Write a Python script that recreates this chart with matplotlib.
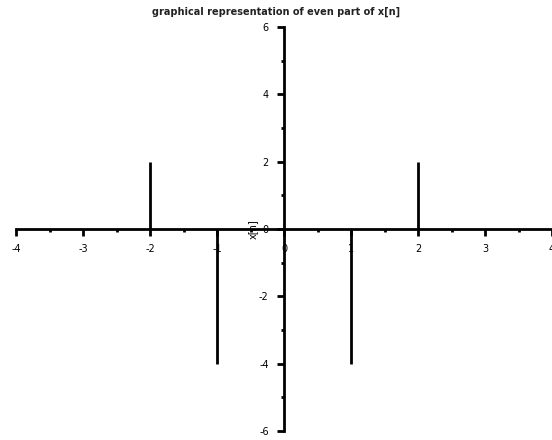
import matplotlib.pyplot as plt
from matplotlib.ticker import MultipleLocator

n = [-2, -1, 0, 1, 2]
xe = [2, -4, 0, -4, 2]
xticks = [-4, -3, -2, -1, 0, 1, 2, 3, 4]
yticks = [-6, -4, -2, 0, 2, 4, 6]

fig = plt.figure(figsize=(5.52, 4.40), dpi=100)
ax = fig.add_axes([16 / 552, 9 / 440, 536 / 552, 404 / 440])

# stems, no markers
ax.vlines(n, 0, xe, colors='black', linewidth=2)

ax.set_xlim(-4, 4)
ax.set_ylim(-6, 6)

# axes through the origin
for side in ['top', 'right']:
    ax.spines[side].set_visible(False)
ax.spines['left'].set_position(('data', 0))
ax.spines['bottom'].set_position(('data', 0))
ax.spines['left'].set_linewidth(2)
ax.spines['bottom'].set_linewidth(2)

ax.set_xticks(xticks)
ax.set_yticks(yticks)
ax.xaxis.set_minor_locator(MultipleLocator(0.5))
ax.yaxis.set_minor_locator(MultipleLocator(1))
ax.tick_params(which='major', direction='out', length=5, width=2, labelsize=7, pad=6)
ax.tick_params(which='minor', direction='out', length=2.5, width=2)
ax.set_xticklabels([str(v) for v in xticks])
ax.set_yticklabels([str(v) for v in yticks])

ax.text(-0.46, 0, 'x[n]', rotation=90, fontsize=7, ha='center', va='center')
fig.text(0.5, 0.972, 'graphical representation of even part of x[n]',
         ha='center', va='center', fontsize=7, fontweight='bold', color='#222222')

plt.savefig('out.png', dpi=100)
